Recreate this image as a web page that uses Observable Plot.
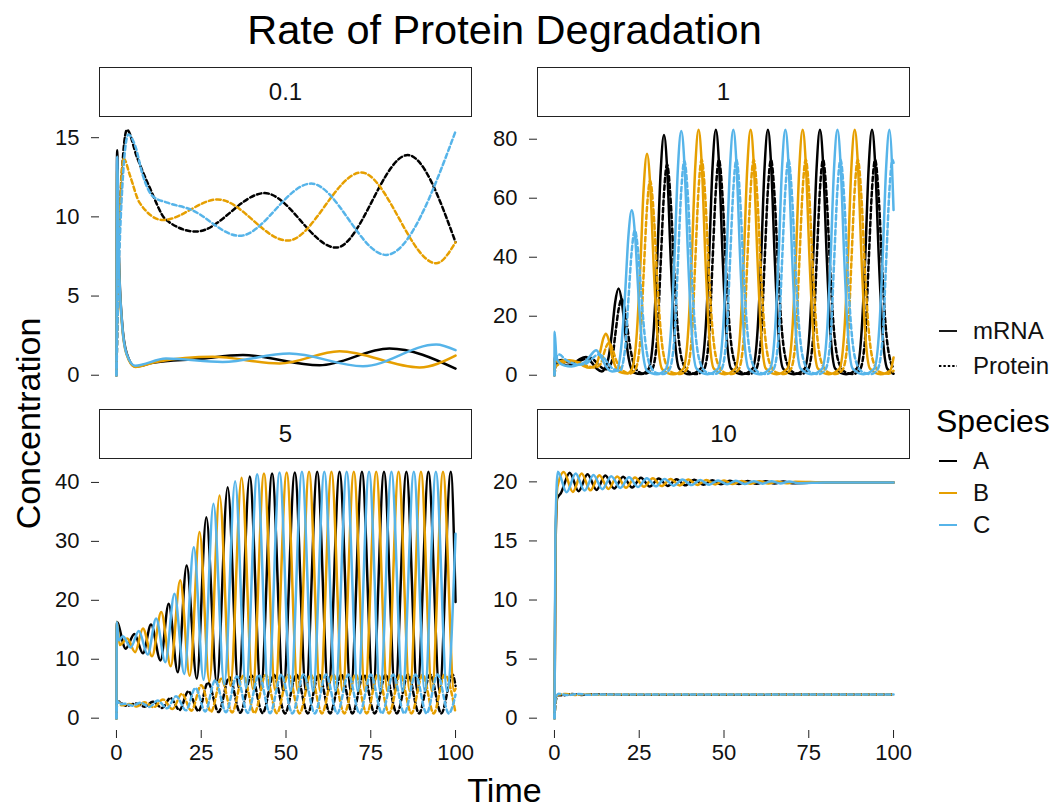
<!DOCTYPE html>
<html>
<head>
<meta charset="utf-8">
<script src="https://cdn.jsdelivr.net/npm/d3@7"></script>
<script src="https://cdn.jsdelivr.net/npm/@observablehq/plot@0.6"></script>
<style>
  body { margin: 0; background: #fff; font-family: "Liberation Sans", Arial, Helvetica, sans-serif; }
  #root { position: relative; width: 1064px; height: 809px; overflow: hidden; background: #fff; }
  .panel { position: absolute; }
  #overlay { position: absolute; left: 0; top: 0; }
</style>
</head>
<body>
<div id="root"></div>
<script>
// ---------------- categories & labels ----------------
const rates = ["0.1", "1", "5", "10"];
const species = ["A", "B", "C"];
const types = ["mRNA", "Protein"];
const speciesColors = ["#000000", "#E69F00", "#56B4E9"];
const xTicks = [0, 25, 50, 75, 100];
const yTicks01 = [0, 5, 10, 15];
const yTicks1 = [0, 20, 40, 60, 80];
const yTicks5 = [0, 10, 20, 30, 40];
const yTicks10 = [0, 5, 10, 15, 20];
const titleText = "Rate of Protein Degradation";
const xTitle = "Time";
const yTitle = "Concentration";
const legendTitle = "Species";

// ---------------- data: [time, concentration] ----------------
// rate 0.1
const r01_A_mRNA = [[0,0],[0.2,14.2],[0.7,7.7],[1.6,3.5],[3,1.4],[5.5,0.55],[10.7,0.78],[24,1.02],[37.3,1.27],[59.9,0.63],[80.5,1.69],[100,0.42]];
const r01_B_mRNA = [[0,0],[0.2,13.0],[0.7,7.2],[1.6,3.3],[3,1.3],[5.5,0.52],[12,0.85],[28.4,1.16],[48.1,0.74],[65.8,1.52],[89.4,0.49],[100,1.24]];
const r01_C_mRNA = [[0,0],[0.2,13.8],[0.7,7.5],[1.6,3.4],[3,1.35],[5.5,0.6],[14.6,1.05],[31.3,0.84],[51,1.37],[72.7,0.57],[94.3,1.94],[100,1.58]];
const r01_A_Protein = [[0,0],[0.5,6],[1.2,11],[2,14],[3.1,15.5],[6,13.8],[9.7,11.9],[14.7,9.8],[23.5,9.07],[43.7,11.5],[64.8,8.06],[85.9,13.9],[100,8.4]];
const r01_B_Protein = [[0,0],[0.4,5],[1,10],[2.1,13.7],[4,12.6],[6.8,10.9],[13.7,9.8],[29.9,11.1],[50.5,8.5],[72.2,12.8],[94.3,7.07],[100,8.4]];
const r01_C_Protein = [[0,0],[0.5,5],[1.5,11],[3.5,15.2],[5.5,14.5],[7.8,12.6],[10.7,11.3],[15,10.9],[21.5,10.5],[36.3,8.8],[57.4,12.1],[79.5,7.6],[100,15.4]];

// rate 1
const r1_A_mRNA = [[0,0],[0.15,6.5],[1,4.8],[2.5,3.8],[4,3.2],[6,4.3],[7.5,5.5],[9.3,6.2],[11,4.3],[12.5,2.2],[14,1.3],[15.9,5.7],[16.9,14.1],[17.9,24.7],[18.9,29.4],[19.9,24.7],[20.9,14.1],[21.9,5.7],[23.4,0.9],[25.6,0.4],[27.8,2.2],[29.3,15.7],[30.3,39.1],[31.3,68.5],[32.3,81.4],[33.3,68.5],[34.3,39.1],[35.3,15.7],[36.8,2.2],[39.9,0.3],[43.1,2.2],[44.6,16],[45.6,40],[46.6,70],[47.6,83.2],[48.6,70],[49.6,40],[50.6,16],[52.1,2.2],[55.3,0.3],[58.45,2.2],[59.95,16],[60.95,40],[61.95,70],[62.95,83.2],[63.95,70],[64.95,40],[65.95,16],[67.45,2.2],[70.6,0.3],[73.8,2.2],[75.3,16],[76.3,40],[77.3,70],[78.3,83.2],[79.3,70],[80.3,40],[81.3,16],[82.8,2.2],[86,0.3],[89.15,2.2],[90.65,16],[91.65,40],[92.65,70],[93.65,83.2],[94.65,70],[95.65,40],[96.65,16],[98.15,2.2],[100,0.5]];
const r1_B_mRNA = [[0,0],[0.15,5.5],[1,4.5],[2.5,5.0],[4.5,5.1],[6.5,4.6],[8.5,3.2],[10.5,2.5],[12.3,3.5],[13.5,8],[14.4,12.5],[15.2,14.1],[16.0,12],[17,6.5],[18.3,2.2],[20,0.8],[21.5,0.6],[22.8,2],[24.3,14.4],[25.3,36.1],[26.3,63.2],[27.3,75.1],[28.3,63.2],[29.3,36.1],[30.3,14.4],[31.8,2],[35,0.3],[38,2.2],[39.5,16],[40.5,40],[41.5,70],[42.5,83.2],[43.5,70],[44.5,40],[45.5,16],[47,2.2],[50.2,0.3],[53.35,2.2],[54.85,16],[55.85,40],[56.85,70],[57.85,83.2],[58.85,70],[59.85,40],[60.85,16],[62.35,2.2],[65.5,0.3],[68.7,2.2],[70.2,16],[71.2,40],[72.2,70],[73.2,83.2],[74.2,70],[75.2,40],[76.2,16],[77.7,2.2],[80.9,0.3],[84.05,2.2],[85.55,16],[86.55,40],[87.55,70],[88.55,83.2],[89.55,70],[90.55,40],[91.55,16],[93.05,2.2],[96.2,0.3],[99,1.5],[100,6]];
const r1_C_mRNA = [[0,0],[0.05,14.7],[0.6,6],[1.5,4.2],[3,3.3],[5,3],[7,3.5],[9,4.5],[10.5,6.5],[12.3,8.5],[13.8,6],[15.3,2.8],[17,1.3],[18.3,1.5],[19.8,10.8],[20.8,26.9],[21.8,47],[22.8,55.9],[23.8,47],[24.8,26.9],[25.8,10.8],[27.3,1.5],[30.2,0.3],[32.9,2.2],[34.4,16],[35.4,40],[36.4,70],[37.4,82.8],[38.4,70],[39.4,40],[40.4,16],[41.9,2.2],[45.1,0.3],[48.25,2.2],[49.75,16],[50.75,40],[51.75,70],[52.75,83.2],[53.75,70],[54.75,40],[55.75,16],[57.25,2.2],[60.4,0.3],[63.6,2.2],[65.1,16],[66.1,40],[67.1,70],[68.1,83.2],[69.1,70],[70.1,40],[71.1,16],[72.6,2.2],[75.8,0.3],[78.95,2.2],[80.45,16],[81.45,40],[82.45,70],[83.45,83.2],[84.45,70],[85.45,40],[86.45,16],[87.95,2.2],[91.1,0.3],[94.3,2.2],[95.8,16],[96.8,40],[97.8,70],[98.8,83.2],[100,56]];
const r1_A_Protein = [[0,0],[0.4,3.5],[2,5.2],[4,4.4],[6.5,4.6],[9,5.5],[10.8,5.8],[12.5,4.2],[14,2.5],[15.4,2.0],[16.9,4.6],[17.9,13.4],[18.9,22.2],[19.8,25.8],[20.9,21.2],[21.9,12.7],[22.9,6],[24.4,1.6],[26.4,0.5],[28.8,2],[30.3,12.7],[31.3,37.2],[32.3,61.6],[33.2,71.4],[34.3,58.7],[35.3,35.2],[36.3,16.6],[37.8,4.4],[39.8,1],[42,0.4],[44.1,2],[45.6,13],[46.6,38],[47.6,63],[48.5,73],[49.6,60],[50.6,36],[51.6,17],[53.1,4.5],[55.1,1],[57.5,0.4],[59.45,2],[60.95,13],[61.95,38],[62.95,63],[63.85,73],[64.95,60],[65.95,36],[66.95,17],[68.45,4.5],[70.45,1],[72.8,0.4],[74.8,2],[76.3,13],[77.3,38],[78.3,63],[79.2,73],[80.3,60],[81.3,36],[82.3,17],[83.8,4.5],[85.8,1],[88.1,0.4],[90.15,2],[91.65,13],[92.65,38],[93.65,63],[94.55,73],[95.65,60],[96.65,36],[97.65,17],[99.15,4.5],[100,2.6]];
const r1_B_Protein = [[0,0],[0.4,3],[2,4],[4.5,4.6],[7,4.4],[9.5,3.2],[12,2.6],[13.7,4],[14.5,7],[15.2,9.5],[16.1,11],[17.2,8.5],[18.2,5],[19.5,2.2],[21,1],[22.2,0.6],[23.8,1.8],[25.3,11.7],[26.3,34.3],[27.3,56.9],[28.2,65.9],[29.3,54.2],[30.3,32.5],[31.3,15.4],[32.8,4.1],[34.8,0.9],[37,0.4],[39,2],[40.5,13],[41.5,38],[42.5,63],[43.4,73],[44.5,60],[45.5,36],[46.5,17],[48,4.5],[50,1],[52.3,0.4],[54.35,2],[55.85,13],[56.85,38],[57.85,63],[58.75,73],[59.85,60],[60.85,36],[61.85,17],[63.35,4.5],[65.35,1],[67.7,0.4],[69.7,2],[71.2,13],[72.2,38],[73.2,63],[74.1,73],[75.2,60],[76.2,36],[77.2,17],[78.7,4.5],[80.7,1],[83,0.4],[85.05,2],[86.55,13],[87.55,38],[88.55,63],[89.45,73],[90.55,60],[91.55,36],[92.55,17],[94.05,4.5],[96.05,1],[98.5,0.5],[100,1.5]];
const r1_C_Protein = [[0,0],[0.4,6],[1.5,7],[3,5.5],[5,4.2],[7,3.6],[9,3.8],[11,5.5],[12.8,7],[14,6.6],[15.5,4.5],[17,2.4],[19.3,1.5],[20.8,8.7],[21.8,25.5],[22.8,42.3],[23.7,49.1],[24.8,40.3],[25.8,24.2],[26.8,11.4],[28.3,3],[30.3,0.7],[32,0.4],[33.9,2],[35.4,12.9],[36.4,37.8],[37.4,62.7],[38.3,72.6],[39.4,59.7],[40.4,35.8],[41.4,16.9],[42.9,4.5],[44.9,1],[47.2,0.4],[49.25,2],[50.75,13],[51.75,38],[52.75,63],[53.65,73],[54.75,60],[55.75,36],[56.75,17],[58.25,4.5],[60.25,1],[62.6,0.4],[64.6,2],[66.1,13],[67.1,38],[68.1,63],[69,73],[70.1,60],[71.1,36],[72.1,17],[73.6,4.5],[75.6,1],[78,0.4],[79.95,2],[81.45,13],[82.45,38],[83.45,63],[84.35,73],[85.45,60],[86.45,36],[87.45,17],[88.95,4.5],[90.95,1],[93.3,0.4],[95.3,2],[96.8,13],[97.8,38],[98.8,63],[99.7,73],[100,72]];

// rate 5
const r5_A_mRNA = [[0,0],[0.1,16.3],[2.7,11.8],[5.3,14.3],[7.8,11.0],[10.2,15.9],[13.0,9.8],[15.4,19.4],[18.1,7.8],[20.7,25.9],[23.7,6.7],[26.5,34.1],[29.6,5.9],[32.8,39.2],[36.0,5.2],[39.3,41.0],[42.6,4.8],[45.9,41.5],[49.2,4.6],[52.6,41.7],[55.9,4.6],[59.2,41.8],[62.5,4.6],[65.8,41.8],[69.1,4.6],[72.4,41.8],[75.65,4.6],[78.9,41.8],[82.2,4.6],[85.5,41.8],[88.75,4.6],[92.0,41.8],[95.3,4.6],[98.6,41.8],[100,19.7]];
const r5_B_mRNA = [[0,0],[0.1,16.3],[1.0,12.4],[3.2,13.5],[5.5,11.2],[7.8,15.2],[10.5,10.5],[13.2,18.0],[16.0,8.8],[18.8,23.4],[21.6,7.2],[24.5,31.6],[27.4,6.2],[30.4,37.8],[33.6,5.5],[36.9,40.8],[40.2,5.0],[43.5,41.5],[46.8,4.8],[50.2,41.7],[53.5,4.6],[56.8,41.8],[60.1,4.6],[63.4,41.8],[66.7,4.6],[70.0,41.8],[73.3,4.6],[76.6,41.8],[79.9,4.6],[83.2,41.8],[86.5,4.6],[89.8,41.8],[93.05,4.6],[96.3,41.8],[99.6,4.6],[100,5.0]];
const r5_C_mRNA = [[0,0],[0.1,16.3],[0.7,13.2],[1.9,13.9],[4.2,12.0],[6.6,14.8],[9.2,10.8],[11.7,16.9],[14.4,9.5],[17.1,21.1],[20.0,7.5],[22.8,29.0],[25.7,6.5],[28.6,36.4],[31.8,5.7],[35.0,40.2],[38.2,5.1],[41.5,41.4],[44.8,4.8],[48.1,41.7],[51.4,4.6],[54.7,41.8],[58.0,4.6],[61.3,41.8],[64.6,4.6],[67.9,41.8],[71.2,4.6],[74.5,41.8],[77.8,4.6],[81.1,41.8],[84.4,4.6],[87.7,41.8],[90.95,4.6],[94.2,41.8],[97.5,4.6],[100,31.3]];
const r5_A_Protein = [[0,0],[0.2,2.9],[2.9,2.1],[5.8,2.5],[8.3,1.95],[10.7,2.8],[13.5,1.73],[15.9,3.43],[18.6,1.38],[21.2,4.58],[24.2,1.19],[27.0,6.04],[30.1,1.04],[33.3,6.94],[36.5,0.92],[39.8,7.26],[43.1,0.85],[46.4,7.35],[49.7,0.81],[53.1,7.38],[56.4,0.81],[59.7,7.4],[63.0,0.81],[66.3,7.4],[69.6,0.81],[72.9,7.4],[76.15,0.81],[79.4,7.4],[82.7,0.81],[86.0,7.4],[89.25,0.81],[92.5,7.4],[95.8,0.81],[99.1,7.4],[100,5.5]];
const r5_B_Protein = [[0,0],[0.2,2.9],[1.5,2.19],[3.7,2.39],[6.0,1.98],[8.3,2.69],[11.0,1.86],[13.7,3.19],[16.5,1.56],[19.3,4.14],[22.1,1.27],[25.0,5.59],[27.9,1.1],[30.9,6.69],[34.1,0.97],[37.4,7.22],[40.7,0.88],[44.0,7.35],[47.3,0.85],[50.7,7.38],[54.0,0.81],[57.3,7.4],[60.6,0.81],[63.9,7.4],[67.2,0.81],[70.5,7.4],[73.8,0.81],[77.1,7.4],[80.4,0.81],[83.7,7.4],[87.0,0.81],[90.3,7.4],[93.55,0.81],[96.8,7.4],[100,0.85]];
const r5_C_Protein = [[0,0],[0.2,2.9],[1.2,2.34],[2.4,2.46],[4.7,2.12],[7.1,2.62],[9.7,1.91],[12.2,2.99],[14.9,1.68],[17.6,3.73],[20.5,1.33],[23.3,5.13],[26.2,1.15],[29.1,6.44],[32.3,1.01],[35.5,7.12],[38.7,0.9],[42.0,7.33],[45.3,0.85],[48.6,7.38],[51.9,0.81],[55.2,7.4],[58.5,0.81],[61.8,7.4],[65.1,0.81],[68.4,7.4],[71.7,0.81],[75.0,7.4],[78.3,0.81],[81.6,7.4],[84.9,0.81],[88.2,7.4],[91.45,0.81],[94.7,7.4],[98.0,0.81],[100,4.0]];

// rate 10
const r10_A_mRNA = [[0,0],[0.35,15],[0.8,18.6],[1.9,19.05],[4.5,20.78],[7.1,19.2],[9.75,20.65],[12.4,19.32],[15.0,20.53],[17.6,19.43],[20.25,20.43],[22.9,19.52],[25.5,20.35],[28.1,19.6],[30.75,20.28],[33.4,19.66],[36.0,20.22],[38.6,19.71],[41.25,20.18],[43.9,19.75],[46.5,20.14],[49.1,19.79],[51.75,20.1],[54.4,19.82],[57.0,20.08],[59.6,19.84],[62.25,20.05],[64.9,19.86],[67.5,20.04],[70.1,19.88],[80,19.95],[100,19.95]];
const r10_B_mRNA = [[0,0],[0.35,15.5],[0.9,19.6],[2.75,20.83],[5.4,19.15],[8.0,20.7],[10.6,19.28],[13.25,20.57],[15.9,19.4],[18.5,20.46],[21.1,19.5],[23.75,20.37],[26.4,19.58],[29.0,20.3],[31.6,19.64],[34.25,20.24],[36.9,19.7],[39.5,20.19],[42.1,19.74],[44.75,20.15],[47.4,19.78],[50.0,20.11],[52.6,19.81],[55.25,20.08],[57.9,19.84],[60.5,20.06],[63.1,19.86],[65.75,20.04],[68.4,19.88],[71.0,20.02],[80,19.95],[100,19.95]];
const r10_C_mRNA = [[0,0],[0.3,16],[1.0,20.85],[3.6,19.12],[6.25,20.71],[8.9,19.26],[11.5,20.58],[14.1,19.38],[16.75,20.47],[19.4,19.48],[22.0,20.38],[24.6,19.56],[27.25,20.31],[29.9,19.62],[32.5,20.25],[35.1,19.68],[37.75,20.2],[40.4,19.73],[43.0,20.15],[45.6,19.76],[48.25,20.12],[50.9,19.8],[53.5,20.09],[56.1,19.82],[58.75,20.06],[61.4,19.85],[64.0,20.05],[66.6,19.87],[69.25,20.03],[71.9,19.89],[80,19.95],[100,19.95]];
const r10_A_Protein = [[0,0],[0.4,1.5],[1.0,1.93],[3,1.95],[5,2.04],[8,1.97],[11,2.02],[20,1.99],[100,2.0]];
const r10_B_Protein = [[0,0],[0.4,1.6],[1.0,1.97],[3.3,2.05],[6,1.97],[9,2.03],[12,1.98],[20,2.0],[100,2.0]];
const r10_C_Protein = [[0,0],[0.4,1.7],[1.2,2.06],[4,1.96],[7,2.04],[10,1.98],[14,2.01],[20,2.0],[100,2.0]];

const series = [
  {rate: "0.1", species: "A", type: "mRNA", pts: r01_A_mRNA},
  {rate: "0.1", species: "A", type: "Protein", pts: r01_A_Protein},
  {rate: "0.1", species: "B", type: "mRNA", pts: r01_B_mRNA},
  {rate: "0.1", species: "B", type: "Protein", pts: r01_B_Protein},
  {rate: "0.1", species: "C", type: "mRNA", pts: r01_C_mRNA},
  {rate: "0.1", species: "C", type: "Protein", pts: r01_C_Protein},
  {rate: "1", species: "A", type: "mRNA", pts: r1_A_mRNA},
  {rate: "1", species: "A", type: "Protein", pts: r1_A_Protein},
  {rate: "1", species: "B", type: "mRNA", pts: r1_B_mRNA},
  {rate: "1", species: "B", type: "Protein", pts: r1_B_Protein},
  {rate: "1", species: "C", type: "mRNA", pts: r1_C_mRNA},
  {rate: "1", species: "C", type: "Protein", pts: r1_C_Protein},
  {rate: "5", species: "A", type: "mRNA", pts: r5_A_mRNA},
  {rate: "5", species: "A", type: "Protein", pts: r5_A_Protein},
  {rate: "5", species: "B", type: "mRNA", pts: r5_B_mRNA},
  {rate: "5", species: "B", type: "Protein", pts: r5_B_Protein},
  {rate: "5", species: "C", type: "mRNA", pts: r5_C_mRNA},
  {rate: "5", species: "C", type: "Protein", pts: r5_C_Protein},
  {rate: "10", species: "A", type: "mRNA", pts: r10_A_mRNA},
  {rate: "10", species: "A", type: "Protein", pts: r10_A_Protein},
  {rate: "10", species: "B", type: "mRNA", pts: r10_B_mRNA},
  {rate: "10", species: "B", type: "Protein", pts: r10_B_Protein},
  {rate: "10", species: "C", type: "mRNA", pts: r10_C_mRNA},
  {rate: "10", species: "C", type: "Protein", pts: r10_C_Protein}
];

// ---------------- layout ----------------
const FONT = '"Liberation Sans", Arial, Helvetica, sans-serif';
const PANEL_W = 373, PANEL_H = 270, MARGIN_L = 99;
const panelsLayout = [
  {rate: "0.1", left: 0,   top: 117, showX: false, yTicks: yTicks01},
  {rate: "1",   left: 438, top: 117, showX: false, yTicks: yTicks1},
  {rate: "5",   left: 0,   top: 459, showX: true,  yTicks: yTicks5},
  {rate: "10",  left: 438, top: 459, showX: true,  yTicks: yTicks10}
];
const DASH = "4.5,3";

const root = document.getElementById("root");

function rowsOf(s) {
  return s.pts.map(([t, v]) => ({t, v, species: s.species, type: s.type}));
}

function makePanel(cfg) {
  const ss = series.filter(s => s.rate === cfg.rate);
  const vals = ss.flatMap(s => s.pts.map(p => p[1]));
  const lo = Math.min(0, d3.min(vals)), hi = d3.max(vals);
  const pad = (hi - lo) * 0.05;
  const marks = [
    Plot.axisY({ticks: cfg.yTicks, tickSize: 8, tickPadding: 12, fontSize: 22, label: null, stroke: "#222", fill: "#111"})
  ];
  if (cfg.showX) {
    marks.push(Plot.axisX({ticks: xTicks, tickSize: 8, tickPadding: 6, fontSize: 22, label: null, stroke: "#222", fill: "#111"}));
  }
  for (const s of ss) {
    const opts = {x: "t", y: "v", stroke: "species", curve: "monotone-x", strokeWidth: 2.5};
    if (s.type === "Protein") opts.strokeDasharray = DASH;
    marks.push(Plot.line(rowsOf(s), opts));
  }
  const bottom = cfg.showX ? 46 : 0;
  const plot = Plot.plot({
    width: MARGIN_L + PANEL_W,
    height: PANEL_H + bottom + (cfg.showX ? 1 : 0),
    marginLeft: MARGIN_L, marginRight: 0, marginTop: 0, marginBottom: bottom,
    x: {domain: [-5, 105], axis: cfg.showX ? undefined : null},
    y: {domain: [lo - pad, hi + pad]},
    color: {domain: species, range: speciesColors},
    style: {background: "transparent", overflow: "visible", fontFamily: FONT, fontSize: "22px", color: "#111"},
    marks
  });
  const div = document.createElement("div");
  div.className = "panel";
  div.style.left = cfg.left + "px";
  div.style.top = cfg.top + "px";
  div.appendChild(plot);
  root.appendChild(div);
}
panelsLayout.forEach(makePanel);

// ---------------- overlay: title, strips, axis titles, legend ----------------
const svg = d3.select(root).append("svg")
  .attr("id", "overlay").attr("width", 1064).attr("height", 809)
  .style("font-family", FONT).style("pointer-events", "none");

svg.append("text").attr("x", 504.5).attr("y", 44).attr("text-anchor", "middle")
  .attr("font-size", 41.5).attr("fill", "#000").text(titleText);

panelsLayout.forEach(cfg => {
  const x0 = cfg.left + MARGIN_L;
  const y0 = cfg.top - 50;
  svg.append("rect").attr("x", x0 + 0.5).attr("y", y0 + 0.5)
    .attr("width", PANEL_W - 1).attr("height", 49)
    .attr("fill", "#fff").attr("stroke", "#222").attr("stroke-width", 1);
  svg.append("text").attr("x", x0 + PANEL_W / 2).attr("y", y0 + 25)
    .attr("dy", "0.35em").attr("text-anchor", "middle")
    .attr("font-size", 24).attr("fill", "#111").text(cfg.rate);
});

svg.append("text").attr("transform", "translate(40,423.5) rotate(-90)")
  .attr("text-anchor", "middle").attr("font-size", 34).attr("fill", "#000").text(yTitle);
svg.append("text").attr("x", 504.5).attr("y", 802).attr("text-anchor", "middle")
  .attr("font-size", 34).attr("fill", "#000").text(xTitle);

// legend: line type
const lg = svg.append("g");
const typeY = [331, 366];
types.forEach((tp, i) => {
  lg.append("line").attr("x1", 939).attr("x2", 957).attr("y1", typeY[i]).attr("y2", typeY[i])
    .attr("stroke", "#000").attr("stroke-width", 1.8)
    .attr("stroke-dasharray", tp === "Protein" ? "2.4,2" : null);
  lg.append("text").attr("x", 973).attr("y", typeY[i]).attr("dy", "0.35em")
    .attr("font-size", 24).attr("fill", "#111").text(tp);
});
lg.append("text").attr("x", 936).attr("y", 432).attr("font-size", 32).attr("fill", "#000").text(legendTitle);
const spY = [461, 493, 525];
species.forEach((sp, i) => {
  lg.append("line").attr("x1", 939).attr("x2", 957).attr("y1", spY[i]).attr("y2", spY[i])
    .attr("stroke", speciesColors[i]).attr("stroke-width", 2);
  lg.append("text").attr("x", 973).attr("y", spY[i]).attr("dy", "0.35em")
    .attr("font-size", 24).attr("fill", "#111").text(sp);
});
</script>
</body>
</html>
